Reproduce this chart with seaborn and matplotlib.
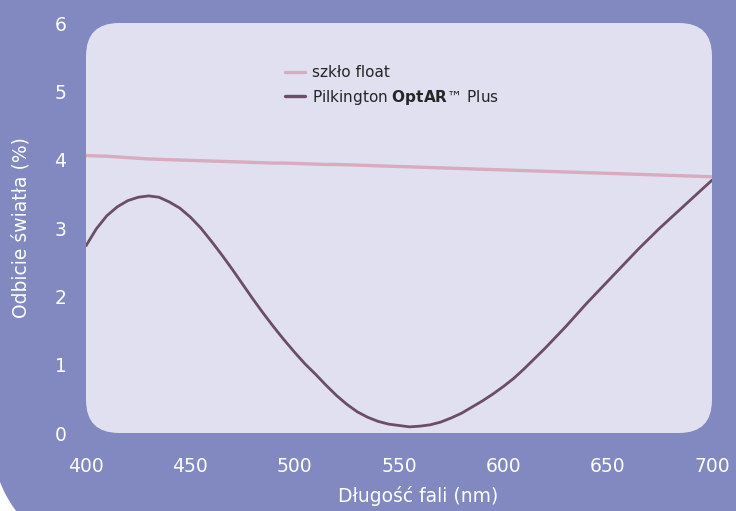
import numpy as np
import pandas as pd
import seaborn as sns
import matplotlib.pyplot as plt
from matplotlib.patches import FancyBboxPatch, Polygon

# wavelength (nm)
wavelength = [400, 405, 410, 415, 420, 425, 430, 435, 440, 445, 450,
              455, 460, 465, 470, 475, 480, 485, 490, 495, 500,
              505, 510, 515, 520, 525, 530, 535, 540, 545, 550,
              555, 560, 565, 570, 575, 580, 585, 590, 595, 600,
              605, 610, 615, 620, 625, 630, 635, 640, 645, 650,
              655, 660, 665, 670, 675, 680, 685, 690, 695, 700]

# reflection (%), float glass
float_glass = [4.06, 4.055, 4.05, 4.04, 4.03, 4.02, 4.01, 4.005, 4.00, 3.995, 3.99,
               3.985, 3.98, 3.975, 3.97, 3.965, 3.96, 3.955, 3.95, 3.95, 3.945,
               3.94, 3.935, 3.93, 3.93, 3.925, 3.92, 3.915, 3.91, 3.905, 3.90,
               3.895, 3.89, 3.885, 3.88, 3.875, 3.87, 3.865, 3.86, 3.855, 3.85,
               3.845, 3.84, 3.835, 3.83, 3.825, 3.82, 3.815, 3.81, 3.805, 3.80,
               3.795, 3.79, 3.785, 3.78, 3.775, 3.77, 3.765, 3.76, 3.755, 3.75]

# reflection (%), Pilkington OptAR Plus
optar = [2.74, 2.99, 3.18, 3.31, 3.40, 3.45, 3.47, 3.45, 3.38, 3.29, 3.16,
         3.00, 2.81, 2.61, 2.40, 2.18, 1.96, 1.75, 1.55, 1.36, 1.18,
         1.01, 0.86, 0.70, 0.55, 0.42, 0.31, 0.23, 0.17, 0.13, 0.11,
         0.09, 0.10, 0.12, 0.16, 0.22, 0.29, 0.38, 0.47, 0.57, 0.68,
         0.80, 0.94, 1.09, 1.24, 1.40, 1.56, 1.73, 1.90, 2.06, 2.22,
         2.38, 2.54, 2.70, 2.85, 3.00, 3.14, 3.28, 3.42, 3.56, 3.70]

series_names = ["szkło float", "Pilkington $\\mathbf{OptAR}$™ Plus"]
x_ticks = [400, 450, 500, 550, 600, 650, 700]
y_ticks = [0, 1, 2, 3, 4, 5, 6]

BG = "#8288c0"
PANEL = "#e0e0f0"
colors = ["#d9abbf", "#6d4d65"]

sns.set_style("white")
plt.rcParams['font.family'] = ['DejaVu Sans']
plt.rcParams['mathtext.fontset'] = 'dejavusans'

fig = plt.figure(figsize=(7.36, 5.11), dpi=100, facecolor=BG)

# white bottom-left corner outside the blue shape
ang = np.radians(np.linspace(195, 230, 40))
arc = np.column_stack([1.10 + 1.177 * np.cos(ang), 0.71 + 1.177 * np.sin(ang)])
corner = np.vstack([arc, [[arc[-1, 0], -0.3], [-0.3, -0.3], [-0.3, arc[0, 1]]]])
fig.add_artist(Polygon(corner, closed=True, transform=fig.dpi_scale_trans,
                       facecolor="white", edgecolor="none", zorder=-1))

ax = fig.add_axes([86 / 736, 78 / 511, 626 / 736, 410 / 511])
ax.set_facecolor("none")

# rounded light panel behind the curves
panel = FancyBboxPatch((0.86, 0.78), 6.26, 4.10,
                       boxstyle="round,pad=0,rounding_size=0.33",
                       transform=fig.dpi_scale_trans, facecolor=PANEL,
                       edgecolor="none", clip_on=False, zorder=0)
ax.add_patch(panel)

df = pd.DataFrame({"wavelength": wavelength, "float": float_glass, "optar": optar})
sns.lineplot(data=df, x="wavelength", y="float", color=colors[0], lw=2.4,
             label=series_names[0], ax=ax, zorder=3, solid_joinstyle="round")
sns.lineplot(data=df, x="wavelength", y="optar", color=colors[1], lw=2.0,
             label=series_names[1], ax=ax, zorder=3, solid_joinstyle="round")

ax.set_xlim(400, 700)
ax.set_ylim(0, 6)
ax.set_xticks(x_ticks)
ax.set_yticks(y_ticks)
for s in ax.spines.values():
    s.set_visible(False)
ax.tick_params(axis="both", length=0, labelcolor="white", labelsize=13.5)
ax.tick_params(axis="x", pad=17)
ax.tick_params(axis="y", pad=14)

ax.set_xlabel("Długość fali (nm)", color="white", fontsize=13.5)
ax.set_ylabel("Odbicie światła (%)", color="white", fontsize=13.5)
ax.xaxis.set_label_coords(0.53, -0.13)
ax.yaxis.set_label_coords(-0.088, 0.5)

handles, labels = ax.get_legend_handles_labels()
leg = ax.legend(handles, labels, loc="upper left",
                bbox_to_anchor=(285 / 736, (511 - 65) / 511),
                bbox_transform=fig.transFigure, frameon=False, fontsize=11,
                handlelength=1.3, handletextpad=0.45, labelspacing=0.5,
                borderpad=0, borderaxespad=0)
for line in leg.get_lines():
    line.set_linewidth(2.4)

fig.savefig("out.png", dpi=100, facecolor=BG)
